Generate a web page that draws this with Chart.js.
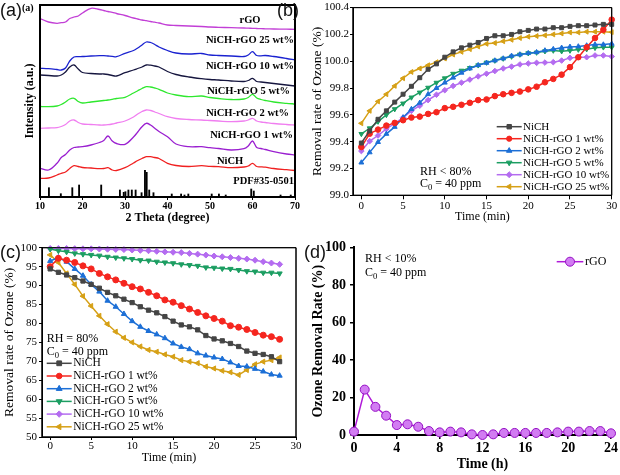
<!DOCTYPE html>
<html><head><meta charset="utf-8">
<script src="https://cdn.jsdelivr.net/npm/chart.js@4.4.1/dist/chart.umd.min.js"></script>
<style>
html,body{margin:0;padding:0;background:#fff}
body{width:620px;height:475px;position:relative;overflow:hidden}
.p{position:absolute;line-height:0}
.p canvas{display:block}
.lbl{position:absolute;font-family:"Liberation Sans",Arial,sans-serif;font-size:18px;line-height:18px;color:#111;z-index:5}
.sml{position:absolute;font-family:"Liberation Serif","Times New Roman",serif;font-weight:bold;font-size:10px;line-height:10px;color:#000;z-index:5}
</style></head>
<body>
<div class="p" style="left:0;top:0"><canvas id="ca" width="310" height="235"></canvas></div>
<div class="p" style="left:310px;top:0"><canvas id="cb" width="310" height="235"></canvas></div>
<div class="p" style="left:0;top:235px"><canvas id="cc" width="310" height="240"></canvas></div>
<div class="p" style="left:310px;top:235px"><canvas id="cd" width="310" height="240"></canvas></div>
<div class="lbl" style="left:0;top:1px">(a)</div>
<div class="sml" style="left:22px;top:3px">(a)</div>
<div class="lbl" style="left:277px;top:1px">(b)</div>
<div class="lbl" style="left:0;top:243px">(c)</div>
<div class="lbl" style="left:304px;top:243px">(d)</div>
<script>
// ---------- Panel (a): XRD patterns (intensity in arbitrary units, offset stacked) ----------
const xrdAngles = [10,12,14,15,16,17,18,19,20,22,24,25,26,27,28,30,32,33,34,35,36,37,38,40,42,45,48,50,52,55,58,59,60,61,62,63,65,68,70];
const xrdRGO   = [178.5,175,173.7,174.3,175,178.5,180,181,184,188.7,187.5,186.5,185.5,184.7,183.5,181.5,179,178,177,176.3,175.5,174.8,174,172,171.5,171,170.5,170,169.7,169.3,169,168.8,168.7,168.5,168.3,168.2,168,167.8,167.7];
const xrd25    = [128.7,128.3,127.5,127,129,136,140,140.3,140.5,141,141.3,141.3,141,140.7,140.3,143.7,146.5,149,152,155,154.5,152.5,150,146.5,144,143,143.5,142,141.5,141,140.5,142,145.3,141.5,141.2,141.5,140.5,138.5,137];
const xrd10    = [122,121.5,121,122,125,130,132,128,124.5,123.5,123,123,122.5,121.5,121,124.3,127,128.5,130,132,131.8,131,130,125.5,122.5,120,118.3,117.5,117,116,115.5,116.5,118.7,115.5,115,114.5,113.5,112,111];
const xrd5     = [90.5,90.3,91,92.5,95,98,98.7,95.5,94,95,96,96.5,97,97.7,98.5,99.7,104,106.3,108.5,110.3,110,109,107.7,104,102,100.3,101,99.5,98.5,97.5,98,99.5,102.7,99,97.5,96.5,95,93.7,93];
const xrd2     = [68.7,69,69.3,70.5,72.5,76,77,74.5,73,72.5,72,72,72.3,73,74,76,80,83,85.5,87,86.5,85,83.5,80.3,78.5,77.5,77,76.5,76,75.3,76,77,78.7,76,75,74.5,73.5,72.5,72];
const xrd1     = [28.7,27,33.7,39.5,42.5,47,49.5,50,50.3,52,54.5,56.5,61,56,53.5,52.7,60,65,70.3,73.7,72,68.7,65.5,60.3,53,50.3,50.3,49.3,48.5,47,48.3,51,56,49.5,48.5,47.5,45.3,43,42];
const xrdNiCH  = [18.7,19,22,23.7,25,28.5,31.3,30.5,29.5,29,28.3,28.5,29.3,27,26.5,29.3,34,36.5,38.5,40.3,40.3,39.5,38.5,33.7,31.5,30.5,31.3,30.7,30.3,29.3,30,31,33.7,30.5,30.2,29.8,28.5,27.3,26.5];
const pdfAngles  = [12.1,14.9,17.6,19.2,24.4,28.8,29.7,30.1,30.8,31.6,32.5,33.9,34.7,35.1,35.7,36.7,41.0,43.2,44.0,44.9,50.4,52.1,53.7,59.7,60.3,66.6,69.0];
const pdfHeights = [9.3,3.3,9.3,12,12,7,4.7,5.3,7,7,7,4.3,26.7,24.7,7,4.3,3,3,2,3,3,3,2,8,6,2,2];

// ---------- Panel (b): RH < 80% ----------
const bTimes = [0,1,2,3,4,5,6,7,8,9,10,11,12,13,14,15,16,17,18,19,20,21,22,23,24,25,26,27,28,29,30];
const bNiCH = [99.39,99.48,99.567,99.63,99.695,99.754,99.813,99.877,99.94,99.98,100.03,100.07,100.10,100.12,100.14,100.17,100.19,100.19,100.20,100.22,100.23,100.24,100.24,100.25,100.25,100.26,100.265,100.265,100.27,100.275,100.275];
const b1 = [99.36,99.46,99.49,99.52,99.54,99.56,99.58,99.587,99.607,99.62,99.65,99.66,99.675,99.69,99.71,99.715,99.74,99.754,99.764,99.774,99.79,99.81,99.843,99.868,99.90,99.956,100.03,100.104,100.173,100.235,100.31];
const b2 = [99.244,99.32,99.397,99.458,99.51,99.58,99.643,99.69,99.754,99.80,99.84,99.877,99.914,99.946,99.97,99.988,100.005,100.02,100.04,100.05,100.06,100.067,100.08,100.09,100.1,100.107,100.11,100.117,100.124,100.124,100.13];
const b5 = [99.458,99.50,99.55,99.6,99.643,99.685,99.73,99.767,99.803,99.84,99.873,99.907,99.93,99.95,99.97,99.99,100.005,100.02,100.035,100.05,100.06,100.065,100.075,100.08,100.075,100.08,100.087,100.09,100.1,100.104,100.104];
const b10 = [99.33,99.404,99.446,99.495,99.537,99.58,99.63,99.668,99.71,99.75,99.784,99.816,99.84,99.863,99.887,99.907,99.927,99.946,99.96,99.976,99.983,99.988,99.99,99.993,100.005,100.025,100.03,100.03,100.043,100.043,100.035];
const b25 = [99.537,99.63,99.7,99.754,99.816,99.873,99.92,99.946,99.97,99.993,100.02,100.05,100.07,100.09,100.11,100.13,100.136,100.149,100.16,100.173,100.183,100.188,100.193,100.2,100.207,100.215,100.215,100.22,100.22,100.22,100.217];

// ---------- Panel (c): RH = 80% ----------
const cTimes = [0,1,2,3,4,5,6,7,8,9,10,11,12,13,14,15,16,17,18,19,20,21,22,23,24,25,26,27,28];
const cNiCH = [94.4,93.5,92.8,92.1,91.2,90.3,89.3,88.2,87.3,86.4,85.5,84.4,83.5,82.8,81.8,80.6,79.6,79.1,78.3,76.8,75.9,75.4,74.7,73.9,72.7,72.1,71.8,71.2,69.9];
const c1 = [95,97.2,96.7,96.1,95.2,94.4,93.2,92.3,91.5,90.6,89.7,89.1,88.2,87.3,86.2,85.6,84.7,83.8,82.9,82.0,81.3,80.6,79.4,79.0,78.4,77.6,76.9,76.5,75.8];
const c2 = [96.5,97.4,96.3,94.4,92.6,90.3,88.4,86.0,84.4,82.5,80.6,79.1,78.0,77.1,76.1,74.7,73.8,73.2,72.1,71.5,71.0,70.6,69.7,68.75,68.6,68.0,67.3,66.5,66.2];
const c5 = [99.65,99.2,98.9,98.5,98.3,98.1,97.9,97.6,97.4,97.2,97.0,96.7,96.6,96.3,96.1,95.9,95.6,95.4,95.2,94.8,94.7,94.5,94.4,94.1,93.8,93.7,93.4,93.4,93.2];
const c10 = [99.8,99.8,99.8,99.75,99.7,99.7,99.65,99.6,99.55,99.5,99.4,99.3,99.2,99.05,98.9,98.8,98.7,98.5,98.3,98.05,97.8,97.6,97.4,97.2,97.0,96.7,96.3,95.95,95.6];
const c25 = [98.1,96.1,93.2,90.3,87.2,84.6,82.0,79.8,77.8,76.2,75.0,73.9,73.0,72.5,71.8,71.2,70.3,69.9,69.5,68.6,68.1,67.5,67.1,66.4,67.7,69.2,69.9,70.3,71.0];

// ---------- Panel (d): rGO, RH < 10% ----------
const dHours = [0,1,2,3,4,5,6,7,8,9,10,11,12,13,14,15,16,17,18,19,20,21,22,23,24];
const dRGO = [1.8,24.2,15,10.3,5.3,5.7,4.4,2.1,1.4,1.8,1.4,0.35,0,0.35,1.1,1.1,1.1,1.1,1.1,1.4,1.8,1.8,2.1,2.1,0.9];

const sampleNames = ['NiCH','NiCH-rGO 1 wt%','NiCH-rGO 2 wt%','NiCH-rGO 5 wt%','NiCH-rGO 10 wt%','NiCH-rGO 25 wt%'];

// ---------- helpers ----------
const SERIF = '"Liberation Serif","Times New Roman",serif';
Chart.defaults.font.family = SERIF;
Chart.defaults.color = '#000';
Chart.defaults.animation = false;

function drawMarker(ctx, style, rot, r, x, y) {
  ctx.save(); ctx.translate(x, y); ctx.rotate((rot || 0) * Math.PI / 180);
  ctx.beginPath();
  if (style === 'rect') ctx.rect(-r * 0.85, -r * 0.85, r * 1.7, r * 1.7);
  else if (style === 'rectRot') { ctx.moveTo(0, -r * 1.15); ctx.lineTo(r * 1.15, 0); ctx.lineTo(0, r * 1.15); ctx.lineTo(-r * 1.15, 0); ctx.closePath(); }
  else if (style === 'triangle') { ctx.moveTo(0, -r * 1.2); ctx.lineTo(r * 1.05, r * 0.6); ctx.lineTo(-r * 1.05, r * 0.6); ctx.closePath(); }
  else ctx.arc(0, 0, r, 0, Math.PI * 2);
  ctx.fill(); ctx.stroke(); ctx.restore();
}
function drawRich(ctx, t) {
  const size = t.size, wt = t.weight || 'normal';
  const parts = t.parts || [{ s: t.text }];
  let w = 0;
  const ms = parts.map(p => { const fs = p.sub ? size * 0.72 : size; ctx.font = wt + ' ' + fs + 'px ' + SERIF; const m = ctx.measureText(p.s).width; w += m; return { p, fs, m }; });
  let x = t.align === 'right' ? t.x - w : t.align === 'center' ? t.x - w / 2 : t.x;
  ctx.fillStyle = t.color || '#000'; ctx.textBaseline = 'middle'; ctx.textAlign = 'left';
  ms.forEach(({ p, fs, m }) => { ctx.font = wt + ' ' + fs + 'px ' + SERIF; ctx.fillText(p.s, x, t.y + (p.sub ? size * 0.3 : 0)); x += m; });
}
function drawLegend(chart, ctx, L) {
  chart.data.datasets.forEach((ds, i) => {
    const y = L.y + i * L.dy;
    ctx.strokeStyle = ds.borderColor; ctx.lineWidth = ds.borderWidth;
    ctx.beginPath(); ctx.moveTo(L.x1, y); ctx.lineTo(L.x2, y); ctx.stroke();
    ctx.fillStyle = ds.pointBackgroundColor; ctx.strokeStyle = ds.pointBorderColor; ctx.lineWidth = 1;
    drawMarker(ctx, ds.pointStyle, ds.pointRotation, L.r || ds.pointRadius, (L.x1 + L.x2) / 2, y);
    drawRich(ctx, { text: ds.label, x: L.tx, y, size: L.size, align: 'left' });
  });
}
function frame(chart, w) {
  const ctx = chart.ctx, ca = chart.chartArea;
  ctx.save();
  ctx.globalAlpha = 1; ctx.globalCompositeOperation = 'source-over'; ctx.setLineDash([]);
  ctx.strokeStyle = '#000'; ctx.lineWidth = w;
  ctx.beginPath();
  ctx.moveTo(ca.left, ca.top); ctx.lineTo(ca.right, ca.top); ctx.lineTo(ca.right, ca.bottom);
  ctx.lineTo(ca.left, ca.bottom); ctx.closePath();
  ctx.stroke();
  ctx.restore();
}
const overlay = {
  id: 'overlay',
  beforeDatasetsDraw(chart, args, opts) { if (opts.box) frame(chart, opts.box); },
  afterDraw(chart, args, opts) {
    const ctx = chart.ctx;
    if (opts.box) frame(chart, opts.box);
    ctx.save();
    (opts.texts || []).forEach(t => drawRich(ctx, t));
    if (opts.legend) drawLegend(chart, ctx, opts.legend);
    ctx.restore();
  }
};
Chart.register(overlay);

function series(label, xs, ys, color, style, rot, r, fill, edge) {
  return { label, data: xs.map((x, i) => ({ x, y: ys[i] })), borderColor: color, backgroundColor: color,
    pointBackgroundColor: fill || color, pointBorderColor: edge || color, borderWidth: 1.5, pointRadius: r,
    pointStyle: style, pointRotation: rot || 0, pointBorderWidth: 1, tension: 0, clip: false };
}
function xrd(label, ys, color) {
  return { label, data: xrdAngles.map((x, i) => ({ x, y: ys[i] })), borderColor: color, backgroundColor: color,
    borderWidth: 1.3, pointRadius: 0, tension: 0.35 };
}
const noPlug = { legend: { display: false }, tooltip: { enabled: false } };

// ---------- Chart (a) ----------
new Chart(document.getElementById('ca'), {
  type: 'line',
  data: { datasets: [
    xrd('rGO', xrdRGO, '#c23fd6'),
    xrd('NiCH-rGO 25 wt%', xrd25, '#1a22d0'),
    xrd('NiCH-rGO 10 wt%', xrd10, '#16163f'),
    xrd('NiCH-rGO 5 wt%', xrd5, '#2ee82e'),
    xrd('NiCH-rGO 2 wt%', xrd2, '#f07ef0'),
    xrd('NiCH-rGO 1 wt%', xrd1, '#9a1fd0'),
    xrd('NiCH', xrdNiCH, '#f02020'),
    { type: 'bar', label: 'PDF#35-0501', data: pdfAngles.map((x, i) => ({ x, y: pdfHeights[i] })), backgroundColor: '#000', barThickness: 1.2 }
  ] },
  options: {
    responsive: false, layout: { padding: { left: 0, top: 5, right: 15, bottom: 8 } },
    plugins: { legend: { display: false }, tooltip: { enabled: false }, overlay: { box: 2, texts: [
      { text: 'rGO', x: 250, y: 20.7, size: 10.5, weight: 'bold', align: 'center' },
      { text: 'NiCH-rGO 25 wt%', x: 294, y: 40, size: 10.5, weight: 'bold', align: 'right' },
      { text: 'NiCH-rGO 10 wt%', x: 294, y: 66, size: 10.5, weight: 'bold', align: 'right' },
      { text: 'NiCH-rGO 5 wt%', x: 290, y: 91.7, size: 10.5, weight: 'bold', align: 'right' },
      { text: 'NiCH-rGO 2 wt%', x: 289, y: 113.3, size: 10.5, weight: 'bold', align: 'right' },
      { text: 'NiCH-rGO 1 wt%', x: 293, y: 135, size: 10.5, weight: 'bold', align: 'right' },
      { text: 'NiCH', x: 230, y: 161.7, size: 10.5, weight: 'bold', align: 'center' },
      { text: 'PDF#35-0501', x: 294, y: 181.7, size: 10.5, weight: 'bold', align: 'right' }
    ] } },
    scales: {
      x: { type: 'linear', min: 10, max: 70, offset: false,
        ticks: { stepSize: 10, font: { size: 10, weight: 'bold' }, padding: 0.7, maxRotation: 0 },
        grid: { offset: false, drawOnChartArea: false, tickLength: 3, tickColor: '#000' }, border: { color: '#000', width: 2 },
        title: { display: true, text: '2 Theta (degree)', font: { size: 12, weight: 'bold' }, padding: { top: 0, bottom: 1.8 } },
        afterFit: s => { s.height = 30; } },
      y: { min: 0, max: 192, ticks: { display: false },
        grid: { drawOnChartArea: false, drawTicks: false }, border: { color: '#000', width: 2 },
        title: { display: true, text: 'Intensity (a.u.)', font: { size: 12, weight: 'bold' }, padding: { top: 22.8, bottom: 0 } },
        afterFit: s => { s.width = 40; } }
    }
  }
});

// ---------- Chart (b) ----------
const COL = ['#454545', '#f5261f', '#1c6fd6', '#1c9e62', '#b46cf0', '#d6a016'];
const STY = [['rect', 0], ['circle', 0], ['triangle', 0], ['triangle', 180], ['rectRot', 0], ['triangle', -90]];
function sixSeries(xs, arrs, r) {
  return arrs.map((a, i) => series(sampleNames[i], xs, a, COL[i], STY[i][0], STY[i][1], r));
}
function timeX(fontSize, tl, pad, titlePad) {
  return { type: 'linear', min: -1, max: 30,
    ticks: { stepSize: 5, includeBounds: false, font: { size: fontSize }, padding: pad, maxRotation: 0, callback: v => (v >= 0 && v % 5 === 0) ? v : '' },
    grid: { drawOnChartArea: false, tickLength: tl, tickColor: '#000' }, border: { color: '#000', width: 1 },
    title: { display: true, text: 'Time (min)', font: { size: 12 }, padding: { top: 0, bottom: titlePad } },
    afterFit: s => { s.height = 30; } };
}
new Chart(document.getElementById('cb'), {
  type: 'line',
  data: { datasets: sixSeries(bTimes, [bNiCH, b1, b2, b5, b10, b25], 2.8) },
  options: {
    responsive: false, layout: { padding: { left: 0, top: 6, right: 8.3, bottom: 9.7 } },
    plugins: Object.assign({}, noPlug, { overlay: { box: 1,
      texts: [
        { text: 'RH < 80%', x: 110, y: 171.7, size: 12, align: 'left' },
        { parts: [{ s: 'C' }, { s: '0', sub: true }, { s: ' = 40 ppm' }], x: 110, y: 184.3, size: 12, align: 'left' }
      ],
      legend: { x1: 186.7, x2: 211.7, tx: 213, y: 126.7, dy: 12, size: 11, r: 2.6 } } }),
    scales: {
      x: timeX(11, 4, 0, 1.4),
      y: { min: 99.0, max: 100.4,
        ticks: { stepSize: 0.2, font: { size: 11 }, padding: 1, callback: v => Number(v).toFixed(1) },
        grid: { drawOnChartArea: false, tickLength: 3, tickColor: '#000' }, border: { color: '#000', width: 1 },
        title: { display: true, text: 'Removal rate of Ozone (%)', font: { size: 13.5 }, padding: { top: -1, bottom: 0 } },
        afterFit: s => { s.width = 43; } }
    }
  }
});

// ---------- Chart (c) ----------
new Chart(document.getElementById('cc'), {
  type: 'line',
  data: { datasets: sixSeries(cTimes, [cNiCH, c1, c2, c5, c10, c25], 3) },
  options: {
    responsive: false, layout: { padding: { left: 0, top: 12.7, right: 14, bottom: 8 } },
    plugins: Object.assign({}, noPlug, { overlay: { box: 1,
      texts: [
        { text: 'RH = 80%', x: 46.7, y: 104, size: 12, align: 'left' },
        { parts: [{ s: 'C' }, { s: '0', sub: true }, { s: ' = 40 ppm' }], x: 46.7, y: 116.7, size: 12, align: 'left' }
      ],
      legend: { x1: 46.7, x2: 71.7, tx: 73.3, y: 128.3, dy: 12.7, size: 11.5, r: 2.8 } } }),
    scales: {
      x: timeX(11, 3, 0, 2.1),
      y: { min: 50, max: 100,
        ticks: { stepSize: 5, font: { size: 11 }, padding: 2 },
        grid: { drawOnChartArea: false, tickLength: 3, tickColor: '#000' }, border: { color: '#000', width: 1 },
        title: { display: true, text: 'Removal rate of Ozone (%)', font: { size: 13.5 }, padding: { top: 1.6, bottom: 0 } },
        afterFit: s => { s.width = 42; } }
    }
  }
});

// ---------- Chart (d) ----------
const dSet = series('rGO', dHours, dRGO, '#b01ad8', 'circle', 0, 4.5, '#d27cf2', '#9410c4');
new Chart(document.getElementById('cd'), {
  type: 'line',
  data: { datasets: [dSet] },
  options: {
    responsive: false, layout: { padding: { left: 0, top: 11.7, right: 9, bottom: 2 } },
    plugins: Object.assign({}, noPlug, { overlay: {
      texts: [
        { text: 'RH < 10%', x: 55, y: 24, size: 12, align: 'left' },
        { parts: [{ s: 'C' }, { s: '0', sub: true }, { s: ' = 40 ppm' }], x: 55, y: 38.3, size: 12, align: 'left' }
      ],
      legend: { x1: 246.7, x2: 273.3, tx: 275, y: 26.7, dy: 14, size: 12, r: 4.5 } } }),
    scales: {
      x: { type: 'linear', min: 0, max: 24,
        ticks: { stepSize: 4, font: { size: 14, weight: 'bold' }, padding: 0.9, maxRotation: 0 },
        grid: { drawOnChartArea: false, tickLength: 4, tickColor: '#000', lineWidth: 1.5 }, border: { color: '#000', width: 2 },
        title: { display: true, text: 'Time (h)', font: { size: 14, weight: 'bold' }, padding: { top: 0, bottom: 0.3 } },
        afterFit: s => { s.height = 38; } },
      y: { min: 0, max: 100,
        ticks: { stepSize: 20, font: { size: 14, weight: 'bold' }, padding: 4 },
        grid: { drawOnChartArea: false, tickLength: 4, tickColor: '#000', lineWidth: 1.5 }, border: { color: '#000', width: 2 },
        title: { display: true, text: 'Ozone Removal Rate (%)', font: { size: 14, weight: 'bold' }, padding: { top: 0, bottom: 0 } },
        afterFit: s => { s.width = 44; } }
    }
  }
});
</script>
</body></html>
